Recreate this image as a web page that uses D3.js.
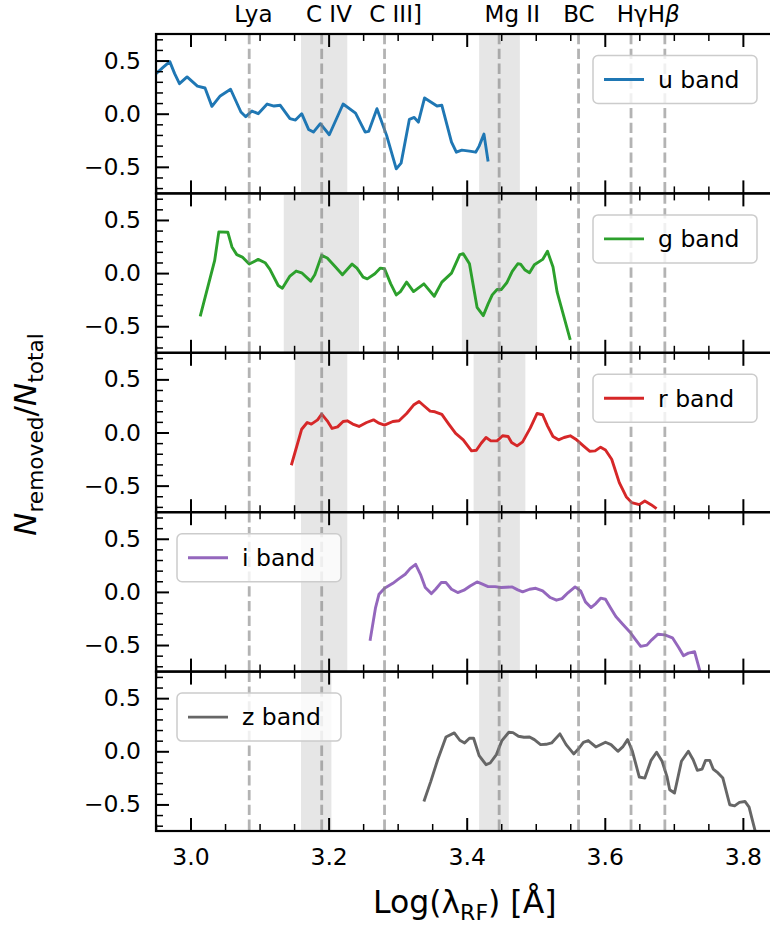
<!DOCTYPE html>
<html>
<head>
<meta charset="utf-8">
<script src="https://cdn.jsdelivr.net/npm/d3@7"></script>
<style>
  html, body { margin: 0; padding: 0; background: #fff; }
  svg { display: block; font-family: "DejaVu Sans", sans-serif; }
</style>
</head>
<body>
<svg id="chart" width="770" height="930"></svg>
<script>
// ---------------- data ----------------
const bandNames = ["u band", "g band", "r band", "i band", "z band"];
const bandColors = ["#1f77b4", "#2ca02c", "#d62728", "#9467bd", "#666666"];

const uBand = [[2.95,0.377],[2.961,0.44],[2.97,0.49],[2.977,0.377],[2.984,0.283],[2.995,0.346],[3.01,0.26],[3.021,0.242],[3.031,0.069],[3.043,0.167],[3.058,0.23],[3.073,0.016],[3.08,-0.028],[3.089,0.025],[3.098,0],[3.111,0.091],[3.121,0.072],[3.13,0.079],[3.144,-0.047],[3.152,-0.06],[3.161,0],[3.171,-0.148],[3.178,-0.173],[3.188,-0.094],[3.201,-0.198],[3.221,0.091],[3.239,0.006],[3.253,-0.173],[3.258,-0.167],[3.27,0.047],[3.284,-0.204],[3.298,-0.519],[3.305,-0.465],[3.317,-0.053],[3.324,-0.035],[3.33,-0.079],[3.339,0.148],[3.348,0.11],[3.357,0.072],[3.364,0.079],[3.378,-0.267],[3.385,-0.362],[3.393,-0.343],[3.404,-0.352],[3.413,-0.362],[3.418,-0.305],[3.425,-0.192],[3.431,-0.45]];

const gBand = [[3.014,-0.407],[3.035,0.12],[3.041,0.388],[3.054,0.385],[3.06,0.246],[3.067,0.174],[3.075,0.151],[3.085,0.085],[3.098,0.129],[3.108,0.098],[3.115,0.035],[3.127,-0.117],[3.133,-0.142],[3.144,-0.028],[3.153,0.019],[3.161,0.003],[3.174,-0.076],[3.18,-0.016],[3.19,0.167],[3.198,0.142],[3.21,0.057],[3.22,-0.016],[3.234,0.085],[3.241,0.047],[3.25,-0.038],[3.256,-0.054],[3.267,-0.006],[3.275,0.047],[3.281,0.041],[3.29,-0.101],[3.298,-0.205],[3.304,-0.174],[3.313,-0.085],[3.323,-0.174],[3.338,-0.101],[3.353,-0.218],[3.364,-0.085],[3.378,0],[3.39,0.174],[3.395,0.183],[3.404,0.088],[3.415,-0.322],[3.424,-0.4],[3.431,-0.29],[3.437,-0.205],[3.444,-0.155],[3.45,-0.155],[3.458,-0.091],[3.466,0.016],[3.474,0.088],[3.478,0.085],[3.484,0.032],[3.491,0.003],[3.498,0.079],[3.51,0.129],[3.517,0.205],[3.525,0.057],[3.531,-0.18],[3.55,-0.628]];

const rBand = [[3.146,-0.308],[3.161,0.031],[3.169,0.094],[3.175,0.079],[3.184,0.119],[3.19,0.173],[3.198,0.11],[3.205,0.038],[3.213,0.053],[3.221,0.104],[3.227,0.11],[3.235,0.079],[3.244,0.057],[3.255,0.094],[3.265,0.119],[3.273,0.088],[3.281,0.069],[3.293,0.104],[3.302,0.11],[3.313,0.179],[3.323,0.258],[3.331,0.292],[3.338,0.252],[3.347,0.201],[3.354,0.195],[3.364,0.17],[3.374,0.079],[3.384,-0.009],[3.395,-0.069],[3.407,-0.173],[3.414,-0.167],[3.421,-0.101],[3.428,-0.047],[3.435,-0.079],[3.444,-0.079],[3.452,-0.031],[3.46,-0.038],[3.465,-0.094],[3.473,-0.126],[3.481,-0.088],[3.492,0.041],[3.502,0.179],[3.51,0.167],[3.517,0.063],[3.525,-0.038],[3.533,-0.069],[3.541,-0.047],[3.55,-0.031],[3.558,-0.063],[3.569,-0.126],[3.578,-0.176],[3.586,-0.173],[3.594,-0.138],[3.601,-0.164],[3.61,-0.252],[3.621,-0.472],[3.631,-0.604],[3.639,-0.66],[3.65,-0.679],[3.658,-0.645],[3.667,-0.679],[3.675,-0.717]];

const iBand = [[3.26,-0.46],[3.268,-0.147],[3.273,-0.022],[3.281,0.034],[3.293,0.081],[3.302,0.125],[3.311,0.166],[3.318,0.219],[3.326,0.26],[3.333,0.166],[3.34,0.041],[3.349,-0.016],[3.355,0.025],[3.363,0.088],[3.37,0.088],[3.378,0.025],[3.387,-0.006],[3.396,0.016],[3.405,0.056],[3.415,0.094],[3.422,0.075],[3.431,0.05],[3.441,0.05],[3.45,0.041],[3.457,0.044],[3.466,0.047],[3.474,0.019],[3.481,0],[3.491,0.025],[3.5,0.034],[3.51,0.009],[3.521,-0.053],[3.53,-0.078],[3.538,-0.063],[3.547,-0.006],[3.557,0.047],[3.565,0.009],[3.572,-0.094],[3.58,-0.147],[3.587,-0.11],[3.594,-0.059],[3.601,-0.069],[3.608,-0.147],[3.616,-0.232],[3.626,-0.304],[3.637,-0.382],[3.644,-0.444],[3.652,-0.513],[3.661,-0.501],[3.668,-0.451],[3.677,-0.398],[3.687,-0.404],[3.698,-0.432],[3.707,-0.523],[3.714,-0.601],[3.721,-0.576],[3.73,-0.563],[3.737,-0.726],[3.74,-0.8]];

const zBand = [[3.338,-0.472],[3.348,-0.283],[3.358,-0.079],[3.37,0.135],[3.382,0.173],[3.39,0.104],[3.397,0.079],[3.404,0.123],[3.41,0.123],[3.418,-0.041],[3.428,-0.126],[3.434,-0.11],[3.443,-0.031],[3.451,0.101],[3.461,0.179],[3.467,0.176],[3.475,0.142],[3.483,0.132],[3.491,0.135],[3.498,0.11],[3.507,0.063],[3.515,0.066],[3.523,0.079],[3.535,0.164],[3.544,0.063],[3.555,-0.025],[3.561,0.016],[3.569,0.085],[3.576,0.101],[3.587,0.041],[3.601,0.085],[3.609,0.063],[3.619,0],[3.626,0.041],[3.633,0.11],[3.64,0],[3.65,-0.242],[3.658,-0.252],[3.667,-0.085],[3.675,-0.009],[3.683,-0.094],[3.69,-0.236],[3.694,-0.362],[3.701,-0.393],[3.711,-0.094],[3.721,0],[3.728,-0.079],[3.734,-0.179],[3.741,-0.167],[3.746,-0.085],[3.752,-0.085],[3.757,-0.167],[3.764,-0.204],[3.771,-0.252],[3.781,-0.503],[3.788,-0.513],[3.795,-0.481],[3.803,-0.472],[3.809,-0.525],[3.813,-0.629],[3.818,-0.755],[3.822,-0.86]];

const bandSeries = [uBand, gBand, rBand, iBand, zBand];

// emission line positions (log wavelength) and their labels
const lineNames = ["Lya", "C IV", "C III]", "Mg II", "BC", "Hγ", "Hβ"];
const linePos = [3.085, 3.19, 3.281, 3.447, 3.562, 3.638, 3.687];
const labelText = ["Lya", "C IV", "C III]", "Mg II", "BC", "HγH"];
const labelPos = [3.091, 3.2005, 3.297, 3.466, 3.5625, 3.663];

// shaded windows per band: C IV window and Mg II window
const civWindow = [[3.16, 3.227], [3.135, 3.244], [3.151, 3.227], [3.16, 3.227], [3.16, 3.204]];
const mgiiWindow = [[3.418, 3.477], [3.393, 3.502], [3.41, 3.485], [3.418, 3.477], [3.418, 3.461]];

// ticks
const xMajorTicks = [3.0, 3.2, 3.4, 3.6, 3.8];
const xTickLabels = ["3.0", "3.2", "3.4", "3.6", "3.8"];
const yMajorTicks = [-0.5, 0.0, 0.5];
const yTickLabels = ["\u22120.5", "0.0", "0.5"];
const legendSide = ["right", "right", "right", "left", "left"];

// ---------------- layout ----------------
const svg = d3.select("#chart");
const left = 156, right = 777.4, top0 = 34, panelH = 159.4;
const FONT = "DejaVu Sans";
const tickFont = 23.5;

const x = d3.scaleLinear().domain([2.95, 3.85]).range([left, right]);
const xMinor = d3.range(2.95, 3.851, 0.05).map(v => +v.toFixed(2)).filter(v => !xMajorTicks.some(m => Math.abs(m - v) < 1e-6));
const yMinor = d3.range(-0.7, 0.71, 0.1).map(v => +v.toFixed(1)).filter(v => !yMajorTicks.some(m => Math.abs(m - v) < 1e-6));

const defs = svg.append("defs");

bandSeries.forEach((series, i) => {
  const top = top0 + i * panelH;
  const bottom = top + panelH;
  const y = d3.scaleLinear().domain([-0.75, 0.75]).range([bottom, top]);
  const g = svg.append("g");

  defs.append("clipPath").attr("id", "clip" + i)
    .append("rect").attr("x", left).attr("y", top).attr("width", right - left).attr("height", panelH);

  const plot = g.append("g").attr("clip-path", `url(#clip${i})`);

  // shaded windows
  [civWindow[i], mgiiWindow[i]].forEach(w => {
    plot.append("rect")
      .attr("x", x(w[0])).attr("y", top)
      .attr("width", x(w[1]) - x(w[0])).attr("height", panelH)
      .attr("fill", "#808080").attr("fill-opacity", 0.2);
  });

  // data line
  plot.append("path")
    .datum(series)
    .attr("d", d3.line().x(d => x(d[0])).y(d => y(d[1])))
    .attr("fill", "none")
    .attr("stroke", bandColors[i])
    .attr("stroke-width", 2.9)
    .attr("stroke-linejoin", "round");

  // dashed line markers
  plot.selectAll(".vl").data(linePos).enter().append("line")
    .attr("x1", d => x(d)).attr("x2", d => x(d))
    .attr("y1", top).attr("y2", bottom)
    .attr("stroke", "#808080").attr("stroke-opacity", 0.6)
    .attr("stroke-width", 2.8)
    .attr("stroke-dasharray", "10.3,4.5");

  // axes: left
  const yAx = g.append("g").attr("transform", `translate(${left},0)`)
    .call(d3.axisLeft(y).tickValues(yMajorTicks).tickSize(-13).tickPadding(15)
      .tickFormat((d, k) => yTickLabels[k]));
  const yAxMinor = g.append("g").attr("transform", `translate(${left},0)`)
    .call(d3.axisLeft(y).tickValues(yMinor).tickSize(-7).tickFormat(""));

  // axes: bottom and top
  const xb = d3.axisBottom(x).tickValues(xMajorTicks).tickSize(-13).tickPadding(17)
      .tickFormat((d, k) => (i === bandSeries.length - 1 ? xTickLabels[k] : ""));
  const xAxB = g.append("g").attr("transform", `translate(0,${bottom})`).call(xb);
  const xAxBm = g.append("g").attr("transform", `translate(0,${bottom})`)
    .call(d3.axisBottom(x).tickValues(xMinor).tickSize(-7).tickFormat(""));
  const xAxT = g.append("g").attr("transform", `translate(0,${top})`)
    .call(d3.axisTop(x).tickValues(xMajorTicks).tickSize(-13).tickFormat(""));
  const xAxTm = g.append("g").attr("transform", `translate(0,${top})`)
    .call(d3.axisTop(x).tickValues(xMinor).tickSize(-7).tickFormat(""));

  [yAx, yAxMinor, xAxB, xAxBm, xAxT, xAxTm].forEach(a => {
    a.select(".domain").remove();
    a.attr("font-family", FONT).attr("font-size", tickFont);
    a.selectAll("text").attr("fill", "#000");
  });
  [yAx, xAxB, xAxT].forEach(a => a.selectAll("line").attr("stroke", "#000").attr("stroke-width", 2));
  [yAxMinor, xAxBm, xAxTm].forEach(a => a.selectAll("line").attr("stroke", "#000").attr("stroke-width", 1.5));

  // spines
  g.append("rect").attr("x", left).attr("y", top).attr("width", right - left).attr("height", panelH)
    .attr("fill", "none").attr("stroke", "#000").attr("stroke-width", 2.2);

  // legend
  const lw = 164, lh = 48;
  const lx = legendSide[i] === "right" ? 757 - lw : left + 21;
  const ly = top + 21.5;
  const leg = g.append("g");
  leg.append("rect").attr("x", lx).attr("y", ly).attr("width", lw).attr("height", lh)
    .attr("rx", 5).attr("ry", 5)
    .attr("fill", "#fff").attr("fill-opacity", 0.8)
    .attr("stroke", "#cccccc").attr("stroke-width", 1.5);
  leg.append("line").attr("x1", lx + 11).attr("x2", lx + 51)
    .attr("y1", ly + lh / 2).attr("y2", ly + lh / 2)
    .attr("stroke", bandColors[i]).attr("stroke-width", 2.9);
  leg.append("text").attr("x", lx + 65).attr("y", ly + lh / 2).attr("dy", "0.35em")
    .attr("font-family", FONT).attr("font-size", 23.5).attr("fill", "#000")
    .text(bandNames[i]);
});

// top labels for emission lines
const tl = svg.append("g").attr("font-family", FONT).attr("font-size", 23).attr("fill", "#000");
labelText.forEach((t, k) => {
  const txt = tl.append("text").attr("x", x(labelPos[k])).attr("y", 21.5).attr("text-anchor", "middle").text(t);
  if (k === labelText.length - 1) txt.append("tspan").attr("font-style", "italic").text("β");
});

// x label
const xl = svg.append("text").attr("x", (left + right) / 2 - 2).attr("y", 913)
  .attr("text-anchor", "middle").attr("font-family", FONT).attr("font-size", 31.5).attr("fill", "#000");
xl.append("tspan").text("Log(λ");
xl.append("tspan").attr("font-size", 22).attr("dy", 7).text("RF");
xl.append("tspan").attr("dy", -7).text(") [Å]");

// y label
const yl = svg.append("text").attr("transform", `translate(36,${top0 + 2.5 * panelH + 2}) rotate(-90)`)
  .attr("text-anchor", "middle").attr("font-family", FONT).attr("font-size", 31).attr("fill", "#000");
yl.append("tspan").attr("font-style", "italic").text("N");
yl.append("tspan").attr("font-size", 21.7).attr("dy", 6.5).text("removed");
yl.append("tspan").attr("dy", -6.5).text("/");
yl.append("tspan").attr("font-style", "italic").text("N");
yl.append("tspan").attr("font-size", 21.7).attr("dy", 6.5).text("total");
</script>
</body>
</html>
